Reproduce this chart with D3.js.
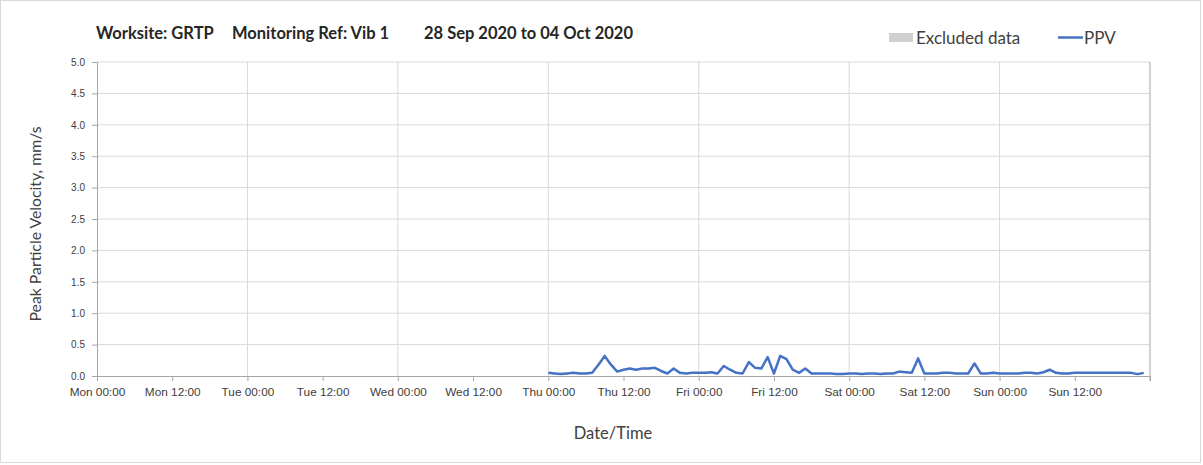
<!DOCTYPE html>
<html>
<head>
<meta charset="utf-8">
<script src="https://cdn.jsdelivr.net/npm/d3@7"></script>
<style>
  body { margin: 0; background: #fff; }
  svg { font-family: Lato, "Open Sans", sans-serif; }
</style>
</head>
<body>
<div id="chart"></div>
<script>
// --- data ---
const titleParts = ["Worksite: GRTP", "Monitoring Ref: Vib 1", "28 Sep 2020 to 04 Oct 2020"];
const rangeStart = "2020-09-28T00:00";
const rangeEnd = "2020-10-05T00:00";
const seriesStart = "2020-10-01T00:00"; // hourly readings from Thu 00:00
const ppv = [
  0.05, 0.04, 0.03, 0.04, 0.05, 0.04, 0.04, 0.05, 0.18, 0.32, 0.18, 0.07,
  0.10, 0.12, 0.10, 0.12, 0.12, 0.13, 0.08, 0.04, 0.12, 0.05, 0.04, 0.05,
  0.05, 0.05, 0.06, 0.04, 0.16, 0.10, 0.05, 0.04, 0.22, 0.13, 0.12, 0.30,
  0.04, 0.32, 0.27, 0.10, 0.05, 0.12, 0.04, 0.04, 0.04, 0.04, 0.03, 0.03,
  0.04, 0.04, 0.03, 0.04, 0.04, 0.03, 0.04, 0.04, 0.07, 0.06, 0.05, 0.28,
  0.04, 0.04, 0.04, 0.05, 0.05, 0.04, 0.04, 0.04, 0.20, 0.04, 0.04, 0.05,
  0.04, 0.04, 0.04, 0.04, 0.05, 0.05, 0.04, 0.06, 0.10, 0.05, 0.04, 0.04,
  0.05, 0.05, 0.05, 0.05, 0.05, 0.05, 0.05, 0.05, 0.05, 0.05, 0.03, 0.05
];
const yTicks = [0, 0.5, 1, 1.5, 2, 2.5, 3, 3.5, 4, 4.5, 5];
const legendItems = ["Excluded data", "PPV"];

const width = 1203;
const height = 465;
const margin = { top: 62, right: 53, bottom: 89, left: 97 };

const parse = d3.timeParse("%Y-%m-%dT%H:%M");
const t0 = parse(seriesStart);
const points = ppv.map((v, i) => ({ t: d3.timeHour.offset(t0, i), v }));

const svg = d3.select("#chart").append("svg")
  .attr("width", width)
  .attr("height", height);

// outer chart border
svg.append("rect")
  .attr("x", 0.5).attr("y", 0.5)
  .attr("width", width - 3).attr("height", height - 3)
  .attr("fill", "none")
  .attr("stroke", "#d9d9d9");

const x = d3.scaleTime()
  .domain([parse(rangeStart), parse(rangeEnd)])
  .range([margin.left, width - margin.right]);
const y = d3.scaleLinear()
  .domain([0, 5])
  .range([height - margin.bottom, margin.top]);

// horizontal gridlines
svg.append("g")
  .selectAll("line")
  .data(yTicks.slice(1))
  .join("line")
  .attr("x1", margin.left).attr("x2", width - margin.right)
  .attr("y1", d => y(d)).attr("y2", d => y(d))
  .attr("stroke", "#d9d9d9");

// vertical gridlines at midnight
const days = d3.timeDay.range(d3.timeDay.offset(parse(rangeStart), 1), parse(rangeEnd));
svg.append("g")
  .selectAll("line")
  .data(days)
  .join("line")
  .attr("x1", d => x(d)).attr("x2", d => x(d))
  .attr("y1", margin.top).attr("y2", y(0))
  .attr("stroke", "#d9d9d9");

// right plot border
svg.append("line")
  .attr("x1", x.range()[1]).attr("x2", x.range()[1])
  .attr("y1", margin.top).attr("y2", y(0) + 5)
  .attr("stroke", "#a6a6a6");

// y axis
const yAxis = svg.append("g")
  .attr("transform", `translate(${margin.left},0)`)
  .call(d3.axisLeft(y).tickValues(yTicks).tickFormat(d3.format(".1f")).tickSize(5).tickPadding(7));
yAxis.select(".domain").attr("stroke", "#a6a6a6");
yAxis.selectAll(".tick line").attr("stroke", "#a6a6a6");
yAxis.selectAll("text").attr("font-size", 10).attr("fill", "#404040");

// x axis
const fmt = d3.timeFormat("%a %H:%M");
const xAxis = svg.append("g")
  .attr("transform", `translate(0,${y(0)})`)
  .call(d3.axisBottom(x)
    .tickValues(d3.timeHour.every(12).range(parse(rangeStart), parse(rangeEnd)))
    .tickFormat(fmt).tickSize(5).tickPadding(7));
xAxis.select(".domain").attr("stroke", "#a6a6a6");
xAxis.selectAll(".tick line").attr("stroke", "#a6a6a6");
xAxis.selectAll("text").attr("font-size", 11.8).attr("fill", "#404040");

// ppv line
svg.append("path")
  .datum(points)
  .attr("fill", "none")
  .attr("stroke", "#4472c4")
  .attr("stroke-width", 2.5)
  .attr("stroke-linejoin", "round")
  .attr("d", d3.line().x(d => x(d.t)).y(d => y(d.v)));

// axis titles
svg.append("text")
  .attr("transform", `translate(41,${(margin.top + y(0)) / 2 + 5}) rotate(-90)`)
  .attr("text-anchor", "middle")
  .attr("font-size", 15.8)
  .attr("fill", "#404040")
  .text("Peak Particle Velocity, mm/s");

svg.append("text")
  .attr("x", 613).attr("y", 439)
  .attr("text-anchor", "middle")
  .attr("font-size", 16.5)
  .attr("fill", "#404040")
  .text("Date/Time");

// title
const titleX = [96, 232, 424];
svg.append("g")
  .selectAll("text")
  .data(titleParts)
  .join("text")
  .attr("x", (d, i) => titleX[i])
  .attr("y", 39)
  .attr("font-size", 16.5)
  .attr("font-weight", "bold")
  .attr("fill", "#262626")
  .text(d => d);

// legend
svg.append("rect")
  .attr("x", 889).attr("y", 33)
  .attr("width", 24).attr("height", 9)
  .attr("fill", "#d0d0d0");
svg.append("text")
  .attr("x", 916).attr("y", 44)
  .attr("font-size", 17)
  .attr("fill", "#404040")
  .text(legendItems[0]);
svg.append("line")
  .attr("x1", 1058).attr("x2", 1083)
  .attr("y1", 37.5).attr("y2", 37.5)
  .attr("stroke", "#4472c4")
  .attr("stroke-width", 2.5);
svg.append("text")
  .attr("x", 1084).attr("y", 44)
  .attr("font-size", 17)
  .attr("fill", "#404040")
  .text(legendItems[1]);
</script>
</body>
</html>
